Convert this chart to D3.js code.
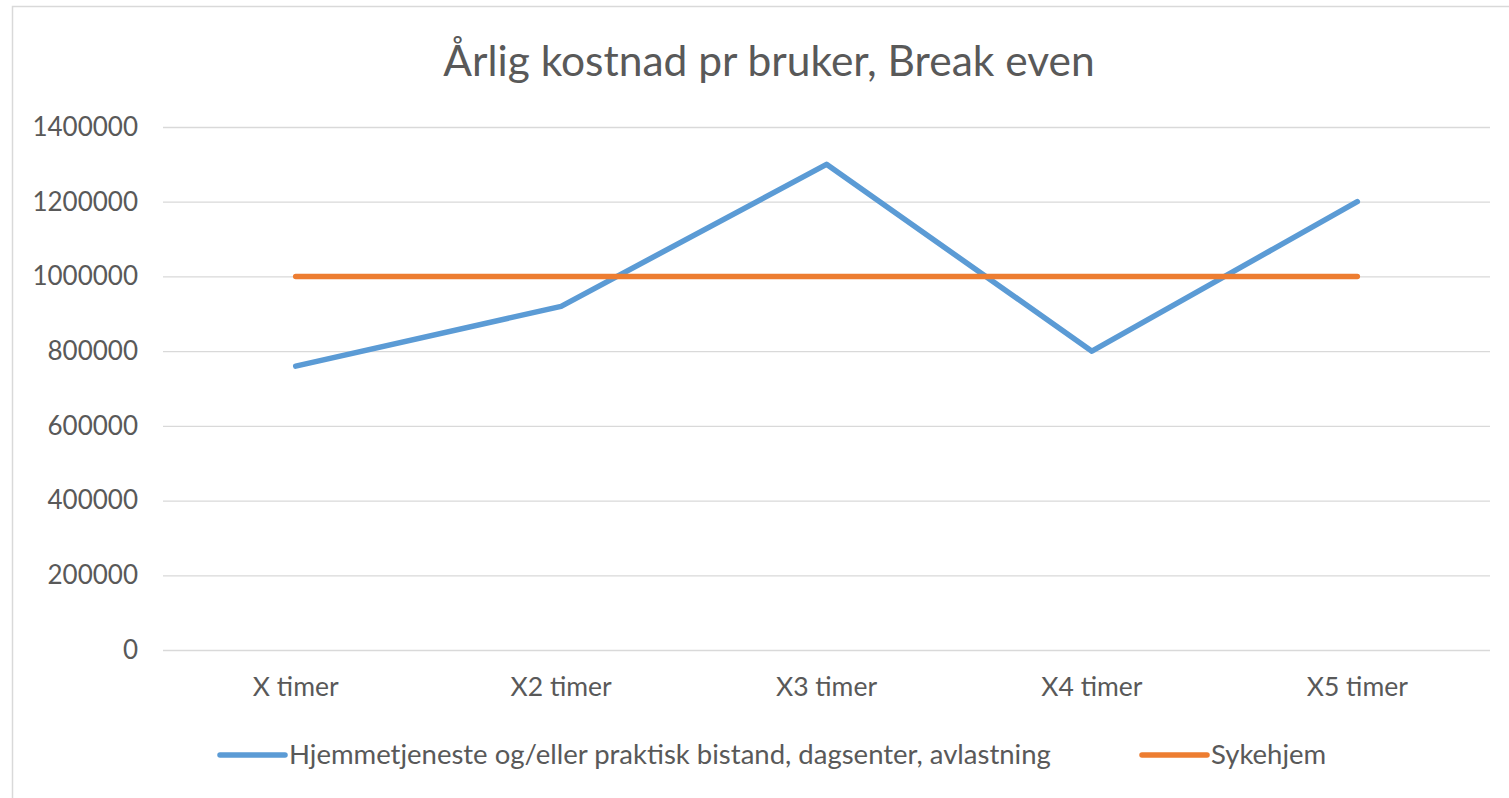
<!DOCTYPE html>
<html>
<head>
<meta charset="utf-8">
<script src="https://cdn.jsdelivr.net/npm/d3@7"></script>
<style>
body{margin:0;background:#fff;}
text{font-family:Lato,"Open Sans",sans-serif;fill:#595959;}
</style>
</head>
<body>
<script>
var categories = ["X timer","X2 timer","X3 timer","X4 timer","X5 timer"];
var hjemmeValues = [760000,920000,1300000,800000,1200000];
var sykehjemValues = [1000000,1000000,1000000,1000000,1000000];
var yTicks = [0,200000,400000,600000,800000,1000000,1200000,1400000];
var seriesNames = ["Hjemmetjeneste og/eller praktisk bistand, dagsenter, avlastning","Sykehjem"];
var seriesColors = ["#5b9bd5","#ed7d31"];

var width = 1509, height = 798;
var svg = d3.select("body").append("svg").attr("width",width).attr("height",height);

// ramme rundt diagrammet
svg.append("rect").attr("x",12.5).attr("y",6.5).attr("width",width-10).attr("height",height)
    .attr("fill","#fff").attr("stroke","#d9d9d9").attr("stroke-width",1.5);

svg.append("text").attr("x",769).attr("y",76).attr("text-anchor","middle")
    .style("font-size","42.5px").text("Årlig kostnad pr bruker, Break even");

var x = d3.scaleBand().domain(categories).range([163,1490]);
var y = d3.scaleLinear().domain([0,1400000]).range([650,127]);

// rutenett
svg.append("g").selectAll("line").data(yTicks).enter().append("line")
    .attr("x1",163).attr("x2",1490)
    .attr("y1",function(d){return y(d)+0.5;}).attr("y2",function(d){return y(d)+0.5;})
    .attr("stroke","#d9d9d9").attr("stroke-width",1.3);

var yAxis = svg.append("g").attr("transform","translate(138,0)")
    .call(d3.axisLeft(y).tickValues(yTicks).tickSize(0).tickPadding(0).tickFormat(d3.format("d")));
yAxis.select(".domain").remove();
yAxis.selectAll("text").style("font-size","26px").style("font-family","Lato,'Open Sans',sans-serif").attr("fill","#595959");

var xAxis = svg.append("g").attr("transform","translate(0,650)")
    .call(d3.axisBottom(x).tickSize(0).tickPadding(27));
xAxis.select(".domain").remove();
xAxis.selectAll("text").style("font-size","26.5px").style("font-family","Lato,'Open Sans',sans-serif").attr("fill","#595959");

var line = d3.line()
    .x(function(d,i){return x(categories[i])+x.bandwidth()/2;})
    .y(function(d){return y(d);});

[hjemmeValues,sykehjemValues].forEach(function(s,i){
  svg.append("path").attr("d",line(s)).attr("fill","none")
     .attr("stroke",seriesColors[i]).attr("stroke-width",5.5)
     .attr("stroke-linejoin","round").attr("stroke-linecap","round");
});

// forklaring
var legendX = [218,1140];
seriesNames.forEach(function(n,i){
  var g = svg.append("g").attr("transform","translate("+legendX[i]+",755)");
  g.append("line").attr("x1",2).attr("x2",67).attr("stroke",seriesColors[i])
   .attr("stroke-width",5.5).attr("stroke-linecap","round");
  g.append("text").attr("x",71).attr("y",9).style("font-size","27.5px").text(n);
});
</script>
</body>
</html>
